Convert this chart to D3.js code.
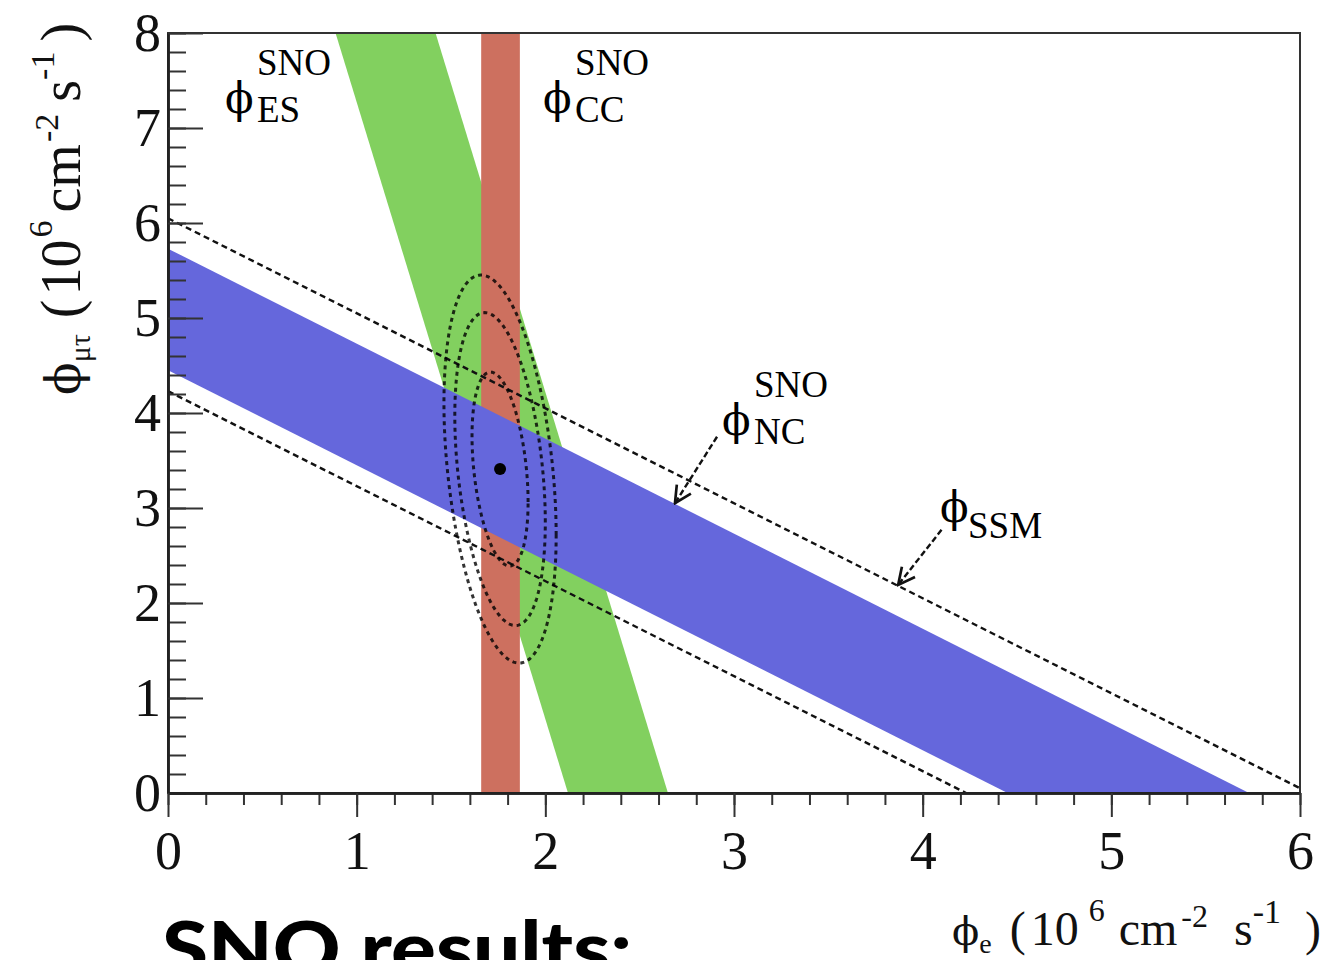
<!DOCTYPE html>
<html lang="en">
<head>
<meta charset="UTF-8">
<title>SNO fluxes</title>
<script src="https://cdn.jsdelivr.net/npm/d3@7"></script>
<style>
  body { margin: 0; background: #fff; }
  svg { display: block; }
</style>
</head>
<body>
<script>
const W = 1321, H = 960

// fluxes in 10^6 cm^-2 s^-1
const ccBand = [1.66, 1.865]      // phi_e
const esBand = [2.12, 2.65]       // phi_e + 0.154 phi_mutau
const esSlope = 0.154
const ncBand = [4.45, 5.73]       // phi_e + phi_mutau
const ssmLines = [4.23, 6.05]     // phi_e + phi_mutau
const bestFit = [1.76, 3.41]
const fitSigma = [0.098, 0.673]
const fitRho = -0.34
const clLevels = [2.30, 5.99, 9.21]  // delta chi2 : 68, 95, 99 % CL
const xTicks = [0, 1, 2, 3, 4, 5, 6]
const yTicks = [0, 1, 2, 3, 4, 5, 6, 7, 8]

// annotations (data coords)
const labels = [
  { name: "ES", sup: "SNO", at: [0.302, 7.158] },
  { name: "CC", sup: "SNO", at: [1.988, 7.158] },
  { name: "NC", sup: "SNO", at: [2.936, 3.768] },
  { name: "SSM", sup: null, at: [4.092, 2.853] }
]
const arrows = [
  { from: [2.91, 3.75], to: [2.687, 3.05] },
  { from: [4.10, 2.77], to: [3.87, 2.19] }
]

const colGreen = "#82d05f", colRed = "#cd705f", colBlue = "#6567dc"
const serif = "'Liberation Serif', 'Times New Roman', serif"

const svg = d3.select("body").append("svg")
  .attr("width", W).attr("height", H)

const x = d3.scaleLinear().domain([0, 6]).range([168, 1300])
const y = d3.scaleLinear().domain([0, 8]).range([793, 33])

svg.append("clipPath").attr("id", "plot")
  .append("rect")
  .attr("x", x(0)).attr("y", y(8))
  .attr("width", x(6) - x(0)).attr("height", y(0) - y(8))

const g = svg.append("g").attr("clip-path", "url(#plot)")
const line = d3.line().x(d => x(d[0])).y(d => y(d[1]))

// ES band
g.append("path")
  .attr("d", line([[esBand[0], 0], [esBand[1], 0],
    [esBand[1] - esSlope * 8, 8], [esBand[0] - esSlope * 8, 8]]) + "Z")
  .attr("fill", colGreen)

// CC band
g.append("rect")
  .attr("x", x(ccBand[0])).attr("y", y(8))
  .attr("width", x(ccBand[1]) - x(ccBand[0])).attr("height", y(0) - y(8))
  .attr("fill", colRed)

// NC band
g.append("path")
  .attr("d", line([[0, ncBand[0]], [0, ncBand[1]], [ncBand[1], 0], [ncBand[0], 0]]) + "Z")
  .attr("fill", colBlue)

// SSM prediction
g.selectAll(".ssm").data(ssmLines).enter().append("path")
  .attr("d", c => line([[0, c], [c, 0]]))
  .attr("fill", "none").attr("stroke", "#111")
  .attr("stroke-width", 2.4).attr("stroke-dasharray", "6,4")

// CL contours
const angles = d3.range(0, 360, 2).map(a => a * Math.PI / 180)
g.selectAll(".cl").data(clLevels).enter().append("path")
  .attr("d", lev => {
    const k = Math.sqrt(lev)
    return line(angles.map(t => [
      bestFit[0] + k * fitSigma[0] * Math.cos(t),
      bestFit[1] + k * fitSigma[1] * (fitRho * Math.cos(t) + Math.sqrt(1 - fitRho * fitRho) * Math.sin(t))
    ])) + "Z"
  })
  .attr("fill", "none").attr("stroke", "#000").attr("stroke-opacity", 0.8)
  .attr("stroke-width", 3).attr("stroke-dasharray", "4,4")

g.append("circle")
  .attr("cx", x(bestFit[0])).attr("cy", y(bestFit[1])).attr("r", 6)
  .attr("fill", "#000")

// frame
svg.append("rect")
  .attr("x", x(0)).attr("y", y(8))
  .attr("width", x(6) - x(0)).attr("height", y(0) - y(8))
  .attr("fill", "none").attr("stroke", "#333").attr("stroke-width", 2)

// axes
const minor = d3.range(0, 8.01, 0.2)
svg.append("g").attr("transform", `translate(${x(0)},0)`)
  .call(d3.axisLeft(y).tickValues(minor).tickSize(-18).tickSizeOuter(0).tickFormat(""))
svg.append("g").attr("transform", `translate(${x(0)},0)`)
  .call(d3.axisLeft(y).tickValues(yTicks).tickSize(-35).tickSizeOuter(0).tickPadding(7)
    .tickFormat(d3.format("d")))
svg.append("g").attr("transform", `translate(0,${y(0)})`)
  .call(d3.axisBottom(x).tickValues(d3.range(0, 6.01, 0.2)).tickSize(12).tickSizeOuter(0).tickFormat(""))
svg.append("g").attr("transform", `translate(0,${y(0)})`)
  .call(d3.axisBottom(x).tickValues(xTicks).tickSize(24).tickSizeOuter(0).tickPadding(14)
    .tickFormat(d3.format("d")))

svg.selectAll(".domain").attr("stroke", "#222").attr("stroke-width", 2.5)
svg.selectAll(".tick line").attr("stroke", "#333").attr("stroke-width", 2)
svg.selectAll(".tick text")
  .attr("font-family", serif).attr("font-size", 54).attr("fill", "#111")

// arrows
svg.append("defs").append("marker")
  .attr("id", "head").attr("viewBox", "0 0 12 12")
  .attr("refX", 11).attr("refY", 6)
  .attr("markerWidth", 20).attr("markerHeight", 20)
  .attr("markerUnits", "userSpaceOnUse").attr("orient", "auto")
  .append("path").attr("d", "M1,1 L11,6 L1,11")
  .attr("fill", "none").attr("stroke", "#111").attr("stroke-width", 1.6)

svg.selectAll(".arrow").data(arrows).enter().append("line")
  .attr("x1", d => x(d.from[0])).attr("y1", d => y(d.from[1]))
  .attr("x2", d => x(d.to[0])).attr("y2", d => y(d.to[1]))
  .attr("stroke", "#111").attr("stroke-width", 2.4)
  .attr("stroke-dasharray", "6,3")
  .attr("marker-end", "url(#head)")

// band labels
labels.forEach(l => {
  const px = x(l.at[0]), py = y(l.at[1])
  svg.append("text").attr("x", px).attr("y", py)
    .attr("font-family", "'DejaVu Serif', serif").attr("font-size", 42)
    .text("ϕ")
  if (l.sup) {
    svg.append("text").attr("x", px + 32).attr("y", py - 38)
      .attr("font-family", serif).attr("font-size", 37).text(l.sup)
    svg.append("text").attr("x", px + 32).attr("y", py + 9)
      .attr("font-family", serif).attr("font-size", 37).text(l.name)
  } else {
    svg.append("text").attr("x", px + 28).attr("y", py + 16)
      .attr("font-family", serif).attr("font-size", 37).text(l.name)
  }
})

// axis titles built from pieces: [text, size, shift, dx]
function rich(sel, pieces) {
  let shift = 0
  pieces.forEach(p => {
    sel.append("tspan")
      .attr("font-size", p[1])
      .attr("font-family", p[0] === "ϕ" ? "'DejaVu Serif', serif" : serif)
      .attr("dy", p[2] - shift).attr("dx", p[3])
      .text(p[0])
    shift = p[2]
  })
}

const xTitle = svg.append("text").attr("x", 952).attr("y", 945).attr("fill", "#111")
rich(xTitle, [
  ["ϕ", 40, 0, 0], ["e", 28, 8, 0], ["(", 48, 0, 18], ["10", 48, 0, 5],
  ["6", 32, -24, 10], ["cm", 48, 0, 14], ["-2", 32, -18, 4], ["s", 48, 0, 26],
  ["-1", 34, -22, 0], [")", 48, 0, 24]
])

const yTitle = svg.append("text")
  .attr("transform", "translate(80,395) rotate(-90)").attr("fill", "#111")
rich(yTitle, [
  ["ϕ", 48, 0, 0], ["μτ", 30, 10, 0], ["(", 56, 0, 16], ["10", 56, 0, 4],
  ["6", 34, -28, 2], ["cm", 56, 0, 8], ["-2", 34, -22, 2], ["s", 56, 0, 12],
  ["-1", 34, -26, 0], [")", 56, 0, 10]
])

svg.append("text")
  .attr("x", 162).attr("y", 975)
  .attr("font-family", "Lato, 'Open Sans', sans-serif").attr("font-weight", 900)
  .attr("font-size", 74).attr("textLength", 470).attr("lengthAdjust", "spacingAndGlyphs")
  .text("SNO results:")
</script>
</body>
</html>
